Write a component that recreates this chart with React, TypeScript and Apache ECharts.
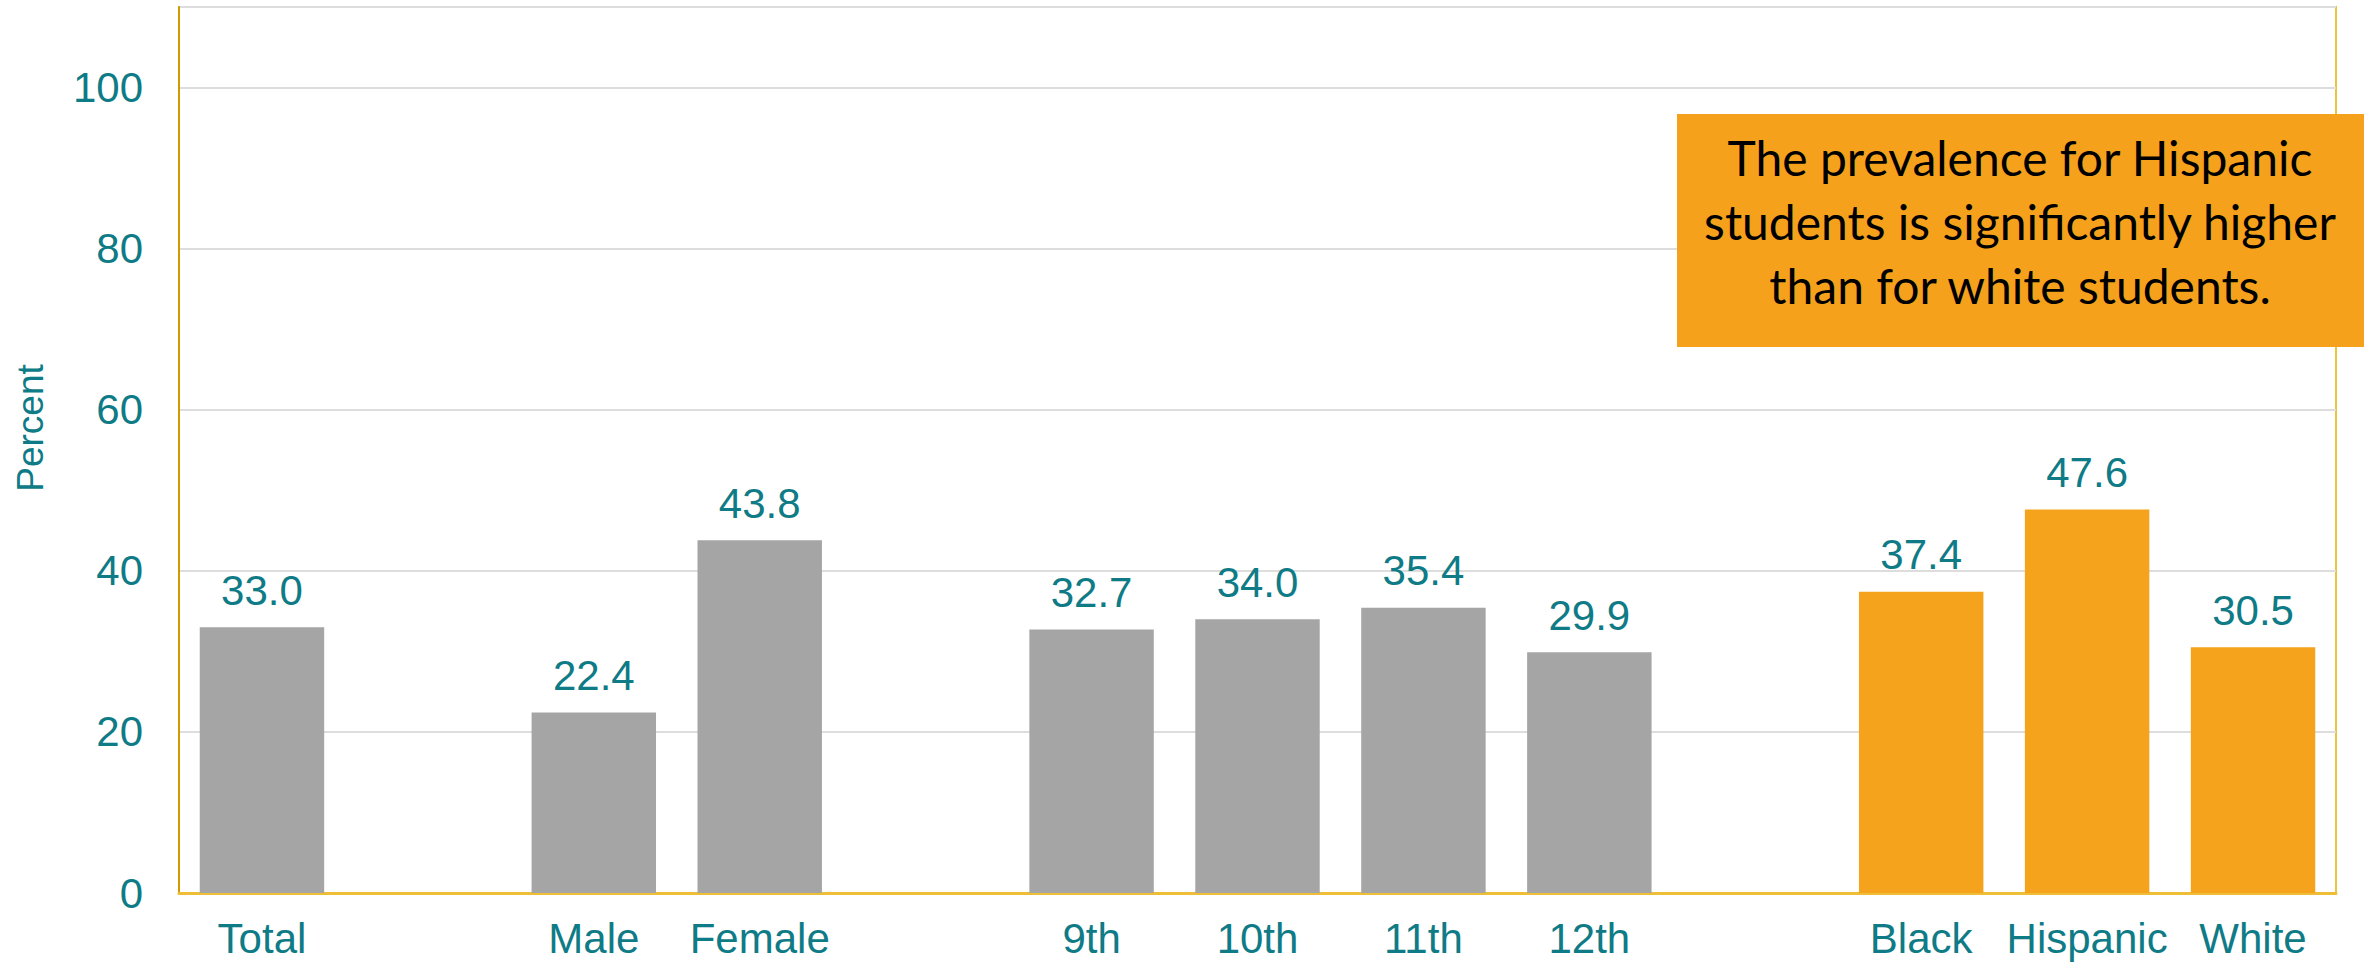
import React, { useEffect, useRef } from "react";
import * as echarts from "echarts";

const categories = ["Total", "", "Male", "Female", "", "9th", "10th", "11th", "12th", "", "Black", "Hispanic", "White"];
const values: (number | null)[] = [33.0, null, 22.4, 43.8, null, 32.7, 34.0, 35.4, 29.9, null, 37.4, 47.6, 30.5];
const highlighted = ["Black", "Hispanic", "White"];
const yTicks = [0, 20, 40, 60, 80, 100];
const yAxisName = "Percent";
const noteLines = ["The prevalence for Hispanic", "students is significantly higher", "than for white students."];

const TEAL = "#0E7B86";
const GRAY = "#A5A5A5";
const ORANGE = "#F5A21D";

export default function App() {
  const ref = useRef<HTMLDivElement>(null);
  useEffect(() => {
    if (!ref.current) return;
    const chart = echarts.init(ref.current, undefined, { renderer: "svg" });
    const data = values.map((v, i) => ({
      value: v,
      itemStyle: { color: highlighted.includes(categories[i]) ? ORANGE : GRAY },
    }));
    chart.setOption({
      animation: false,
      grid: {
        left: 179,
        right: 28,
        top: 7,
        bottom: 70,
        show: true,
        borderColor: "#EFC23E",
        borderWidth: 2,
      },
      xAxis: {
        type: "category",
        data: categories,
        axisLine: { show: true, lineStyle: { color: "#EDBE36", width: 3 } },
        axisTick: { show: false },
        axisLabel: {
          color: TEAL,
          fontSize: 42,
          fontFamily: "Liberation Sans, Arial, sans-serif",
          margin: 24,
          interval: 0,
        },
      },
      yAxis: {
        type: "value",
        min: 0,
        max: 110,
        interval: 20,
        axisLine: { show: true, lineStyle: { color: "#D39A00", width: 2 } },
        axisTick: { show: false },
        axisLabel: {
          color: TEAL,
          fontSize: 42,
          fontFamily: "Liberation Sans, Arial, sans-serif",
          margin: 36,
          formatter: (v: number) => (yTicks.includes(v) ? String(v) : ""),
        },
        splitLine: { show: true, lineStyle: { color: "#DDDDDD", width: 2 } },
      },
      series: [
        {
          type: "bar",
          data,
          barWidth: "75%",
          label: {
            show: true,
            position: "top",
            distance: 16,
            color: TEAL,
            fontSize: 42,
            fontFamily: "Liberation Sans, Arial, sans-serif",
            formatter: (p: any) => (p.value == null ? "" : Number(p.value).toFixed(1)),
          },
        },
      ],
      graphic: [
        {
          type: "text",
          x: 30,
          y: 428,
          rotation: Math.PI / 2,
          style: {
            text: yAxisName,
            fill: TEAL,
            fontSize: 37,
            fontFamily: "Liberation Sans, Arial, sans-serif",
            align: "center",
            verticalAlign: "middle",
          },
        },
        {
          type: "rect",
          left: 1677,
          top: 114,
          shape: { width: 687, height: 233 },
          style: { fill: "#F6A11C" },
          z: 100,
        },
        {
          type: "text",
          x: 2020,
          y: 221,
          z: 101,
          style: {
            text: noteLines.join("\n"),
            fill: "#000000",
            fontSize: 48,
            fontFamily: "Lato, sans-serif",
            lineHeight: 64,
            align: "center",
            verticalAlign: "middle",
          },
        },
      ],
    });
    return () => chart.dispose();
  }, []);
  return (
    <div
      ref={ref}
      style={{ position: "absolute", left: 0, top: 0, width: 2364, height: 963, background: "#fff" }}
    />
  );
}
